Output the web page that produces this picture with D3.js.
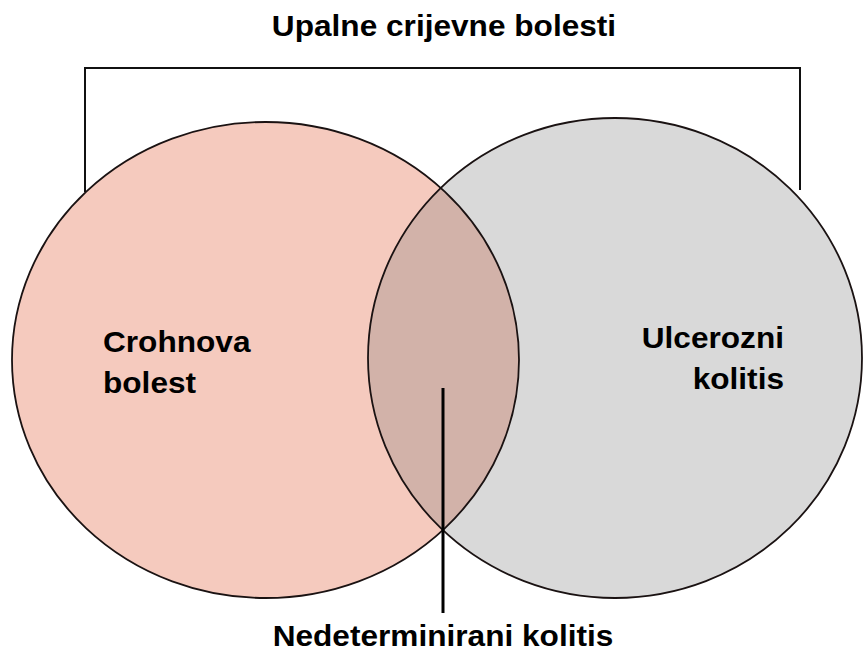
<!DOCTYPE html>
<html>
<head>
<meta charset="utf-8">
<script src="https://d3js.org/d3.v7.min.js"></script>
<style>
  body { margin: 0; background: #fff; }
  text { font-family: "Liberation Sans", Arial, sans-serif; font-weight: bold; fill: #000; }
</style>
</head>
<body>
<script>
// chart text
const title = 'Upalne crijevne bolesti';
const setNames = ['Crohnova bolest', 'Ulcerozni kolitis'];
const setLines = [['Crohnova', 'bolest'], ['Ulcerozni', 'kolitis']];
const overlapName = 'Nedeterminirani kolitis';
const setColors = ['#f5cabe', '#d9d9d9'];
const overlapColor = '#d2b2a9';

const width = 864, height = 654;
const svg = d3.select('body').append('svg').attr('width', width).attr('height', height);

// ellipse geometry (pixel space)
const ell = [
  {cx: 265.5, cy: 360, rx: 253.5, ry: 238},
  {cx: 615, cy: 358, rx: 247, ry: 240}
];

const defs = svg.append('defs');
defs.append('clipPath').attr('id', 'clipR')
  .append('ellipse')
  .attr('cx', ell[1].cx).attr('cy', ell[1].cy).attr('rx', ell[1].rx).attr('ry', ell[1].ry);

// bracket
svg.append('path')
  .attr('d', `M85,192 V68 H800 V190`)
  .attr('fill', 'none').attr('stroke', '#111').attr('stroke-width', 2);

// fills
svg.selectAll('ellipse.fill').data(ell).join('ellipse')
  .attr('class', 'fill')
  .attr('cx', d => d.cx).attr('cy', d => d.cy).attr('rx', d => d.rx).attr('ry', d => d.ry)
  .attr('fill', (d, i) => setColors[i]);

svg.append('ellipse')
  .attr('cx', ell[0].cx).attr('cy', ell[0].cy).attr('rx', ell[0].rx).attr('ry', ell[0].ry)
  .attr('clip-path', 'url(#clipR)')
  .attr('fill', overlapColor);

// outlines
svg.selectAll('ellipse.edge').data(ell).join('ellipse')
  .attr('class', 'edge')
  .attr('cx', d => d.cx).attr('cy', d => d.cy).attr('rx', d => d.rx).attr('ry', d => d.ry)
  .attr('fill', 'none').attr('stroke', '#1a1212').attr('stroke-width', 1.8);

// pointer to overlap
svg.append('line')
  .attr('x1', 443).attr('x2', 443).attr('y1', 388).attr('y2', 613)
  .attr('stroke', '#000').attr('stroke-width', 3);

// the original lettering is a bit wider than Arial, so stretch it horizontally
const sx = 1.09;
function label(x, y, anchor, str) {
  svg.append('text')
    .attr('transform', `translate(${x},${y}) scale(${sx},1)`)
    .attr('text-anchor', anchor)
    .style('font-size', '29px')
    .text(str);
}

label(444, 36, 'middle', title);

const labelPos = [
  {x: 103, y: 352, anchor: 'start'},
  {x: 784, y: 348, anchor: 'end'}
];
setLines.forEach((lines, i) => {
  lines.forEach((l, j) => label(labelPos[i].x, labelPos[i].y + j * 41, labelPos[i].anchor, l));
});

label(443, 646, 'middle', overlapName);
</script>
</body>
</html>
